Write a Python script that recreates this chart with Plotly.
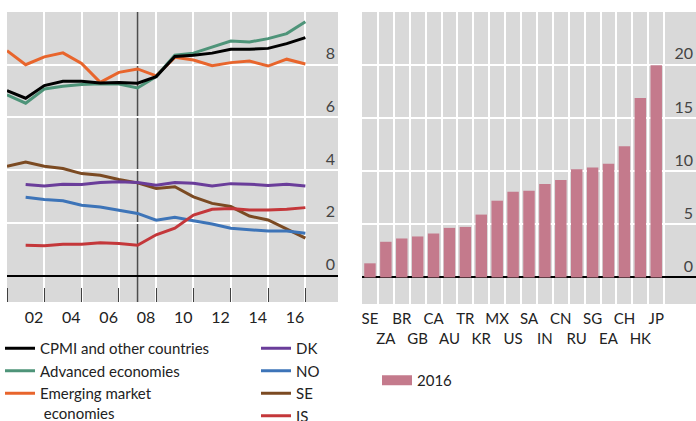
import plotly.graph_objects as go

# ---- Left panel: annual series, 2000-2016 ----
years = list(range(2000, 2017))
cpmi = [7.02, 6.73, 7.21, 7.37, 7.37, 7.31, 7.33, 7.30, 7.55, 8.31, 8.36, 8.44, 8.59, 8.59, 8.62, 8.80, 9.03]
advanced = [6.86, 6.54, 7.08, 7.18, 7.25, 7.28, 7.27, 7.12, 7.55, 8.36, 8.44, 8.68, 8.90, 8.86, 8.99, 9.18, 9.63]
emerging = [8.53, 8.00, 8.30, 8.45, 8.05, 7.33, 7.71, 7.84, 7.58, 8.28, 8.18, 7.96, 8.08, 8.14, 7.95, 8.21, 8.03]
dk = [None, 3.46, 3.40, 3.47, 3.46, 3.53, 3.56, 3.53, 3.43, 3.53, 3.50, 3.40, 3.49, 3.47, 3.42, 3.47, 3.40]
no = [None, 2.97, 2.89, 2.84, 2.67, 2.60, 2.48, 2.36, 2.10, 2.21, 2.08, 1.96, 1.80, 1.74, 1.69, 1.69, 1.61]
se = [4.15, 4.31, 4.15, 4.06, 3.87, 3.81, 3.65, 3.52, 3.31, 3.37, 2.99, 2.74, 2.62, 2.26, 2.11, 1.76, 1.42]
is_ = [None, 1.15, 1.13, 1.19, 1.19, 1.25, 1.22, 1.15, 1.55, 1.80, 2.30, 2.52, 2.55, 2.49, 2.49, 2.52, 2.58]

year_labels = ["02", "04", "06", "08", "10", "12", "14", "16"]
label_years = [2002, 2004, 2006, 2008, 2010, 2012, 2014, 2016]
break_year = 2007
left_yticks = [0, 2, 4, 6, 8]

# ---- Right panel: 2016 cross-section ----
countries = ["SE", "ZA", "BR", "GB", "CA", "AU", "TR", "KR", "MX", "US",
             "SA", "IN", "CN", "RU", "SG", "EA", "CH", "HK", "JP"]
values_2016 = [1.33, 3.36, 3.67, 3.86, 4.14, 4.67, 4.76, 5.92, 7.23, 8.08,
               8.17, 8.79, 9.17, 10.20, 10.36, 10.70, 12.35, 16.89, 19.98]
right_yticks = [0, 5, 10, 15, 20]

FONT = "Lato"
TXT = "#222222"
BG = "#D9D9D9"

fig = go.Figure()

series = [
    ("CPMI and other countries", cpmi, "#000000", "legend", 1),
    ("Advanced economies", advanced, "#4E9479", "legend", 2),
    ("Emerging market<br> economies", emerging, "#E8652C", "legend", 3),
    ("DK", dk, "#6A3D9A", "legend2", 1),
    ("NO", no, "#3D74B8", "legend2", 2),
    ("SE", se, "#7B4A22", "legend2", 3),
    ("IS", is_, "#C4373A", "legend2", 4),
]
# draw order: lower lines first, headline series on top
draw_order = [5, 3, 4, 6, 2, 1, 0]
for i in draw_order:
    name, vals, col, leg, rank = series[i]
    fig.add_trace(go.Scatter(
        x=years, y=vals, name=name, mode="lines",
        line=dict(color=col, width=3),
        xaxis="x", yaxis="y", legend=leg, legendrank=rank,
    ))

bar_color = "#C47A8C"
fig.add_trace(go.Bar(
    x=list(range(len(countries))), y=values_2016, name="2016",
    marker=dict(color=bar_color, line=dict(width=0)),
    xaxis="x2", yaxis="y2", showlegend=False, width=0.72,
))
# legend key for the bar series (wide swatch)
fig.add_trace(go.Scatter(
    x=[None], y=[None], name="2016", mode="lines",
    line=dict(color=bar_color, width=13),
    xaxis="x2", yaxis="y2", legend="legend3",
))

# staggered category labels
cat_text = [c if i % 2 == 0 else "<br>" + c for i, c in enumerate(countries)]

fig.add_shape(type="line", xref="x", yref="y domain",
              x0=break_year, x1=break_year, y0=0, y1=1,
              line=dict(color="#4D4D4D", width=1.5), layer="below")

fig.update_layout(
    width=696, height=421,
    margin=dict(l=0, r=0, t=0, b=0, autoexpand=False),
    paper_bgcolor="white", plot_bgcolor=BG,
    font=dict(family=FONT, size=16, color=TXT),
    bargap=0.28,
    xaxis=dict(
        domain=[7 / 696, 338 / 696], range=[2000, 2017.75],
        tickvals=[y - 0.55 for y in label_years], ticktext=year_labels,
        ticks="", showgrid=False, zeroline=False, showline=False,
        ticklabelstandoff=4, tickangle=0, automargin=False,
        minor=dict(tickvals=list(range(2000, 2019, 2)), ticks="inside",
                   ticklen=14, tickwidth=1.2, tickcolor="#404040",
                   showgrid=True, gridcolor="white", gridwidth=1.5),
        anchor="y",
    ),
    yaxis=dict(
        domain=[119 / 421, 409 / 421], range=[-1, 10],
        tickvals=left_yticks, side="right", ticklabelposition="inside top",
        showgrid=True, gridcolor="white", gridwidth=1.5,
        zeroline=True, zerolinecolor="#000000", zerolinewidth=1.5,
        ticks="", showline=False, anchor="x", automargin=False,
    ),
    xaxis2=dict(
        domain=[362 / 696, 1.0], range=[-0.5, 20.5],
        tickvals=list(range(len(countries))), ticktext=cat_text,
        tickfont=dict(size=15), ticks="", showgrid=False, zeroline=False,
        ticklabelstandoff=4, tickangle=0, automargin=False,
        minor=dict(tickvals=[i + 0.5 for i in range(-1, 21)], ticks="",
                   showgrid=True, gridcolor="white", gridwidth=1.5),
        anchor="y2",
    ),
    yaxis2=dict(
        domain=[117 / 421, 409 / 421], range=[-2.5, 25],
        tickvals=right_yticks, side="right", ticklabelposition="inside top",
        showgrid=True, gridcolor="white", gridwidth=1.5,
        zeroline=True, zerolinecolor="#000000", zerolinewidth=1.5,
        ticks="", showline=False, anchor="x2", automargin=False,
    ),
    legend=dict(x=0.0, y=89 / 421, xanchor="left", yanchor="top",
                orientation="v", valign="top", bgcolor="rgba(0,0,0,0)",
                font=dict(family=FONT, size=15, color=TXT)),
    legend2=dict(x=256 / 696, y=89 / 421, xanchor="left", yanchor="top",
                 orientation="v", bgcolor="rgba(0,0,0,0)",
                 font=dict(family=FONT, size=15, color=TXT)),
    legend3=dict(x=377 / 696, y=57 / 421, xanchor="left", yanchor="top",
                 orientation="v", bgcolor="rgba(0,0,0,0)",
                 font=dict(family=FONT, size=15, color=TXT)),
)

fig.write_html("out.html")
